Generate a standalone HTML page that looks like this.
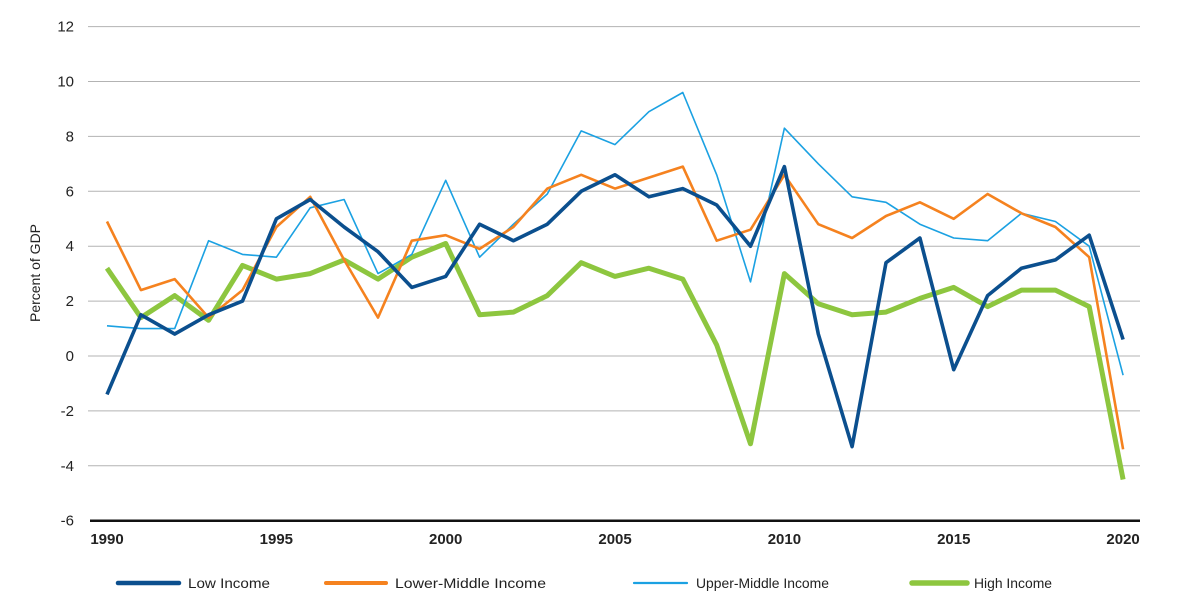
<!DOCTYPE html>
<html><head><meta charset="utf-8"><style>
html,body{margin:0;padding:0;background:#fff;width:1185px;height:611px;overflow:hidden}
svg{display:block;font-family:"Liberation Sans",sans-serif}
</style></head><body>
<svg id="c" width="1185" height="611" xmlns="http://www.w3.org/2000/svg"></svg>
<script>
const s=document.getElementById('c');let h='';
const X=y=>107+(y-1990)*33.87, Y=v=>356-v*27.45;
for(let v=-4;v<=12;v+=2){h+=`<line x1="88" x2="1140" y1="${Y(v)}" y2="${Y(v)}" stroke="#b3b3b3" stroke-width="1"/>`;}
h+=`<line x1="90" x2="1140" y1="${Y(-6)}" y2="${Y(-6)}" stroke="#111" stroke-width="2.5"/>`;
for(let v=-6;v<=12;v+=2)h+=`<text x="74" y="${Y(v)+5}" text-anchor="end" font-size="15" fill="#222">${v<0?'-'+(-v):v}</text>`;
for(let y=1990;y<=2020;y+=5)h+=`<text x="${X(y)}" y="544" text-anchor="middle" font-size="15" font-weight="bold" fill="#222">${y}</text>`;
h+=`<text transform="translate(40,273) rotate(-90)" text-anchor="middle" font-size="14" fill="#222">Percent of GDP</text>`;
const D=[
["#8dc63f",5,[3.2,1.4,2.2,1.3,3.3,2.8,3.0,3.5,2.8,3.6,4.1,1.5,1.6,2.2,3.4,2.9,3.2,2.8,0.4,-3.2,3.0,1.9,1.5,1.6,2.1,2.5,1.8,2.4,2.4,1.8,-4.5]],
["#1ba1e2",1.6,[1.1,1.0,1.0,4.2,3.7,3.6,5.4,5.7,3.0,3.7,6.4,3.6,4.8,5.9,8.2,7.7,8.9,9.6,6.6,2.7,8.3,7.0,5.8,5.6,4.8,4.3,4.2,5.2,4.9,4.0,-0.7]],
["#f5821f",2.6,[4.9,2.4,2.8,1.4,2.4,4.7,5.8,3.5,1.4,4.2,4.4,3.9,4.7,6.1,6.6,6.1,6.5,6.9,4.2,4.6,6.6,4.8,4.3,5.1,5.6,5.0,5.9,5.2,4.7,3.6,-3.4]],
["#0b4f8e",3.6,[-1.4,1.5,0.8,1.5,2.0,5.0,5.7,4.7,3.8,2.5,2.9,4.8,4.2,4.8,6.0,6.6,5.8,6.1,5.5,4.0,6.9,0.8,-3.3,3.4,4.3,-0.5,2.2,3.2,3.5,4.4,0.6]]];
for(const [c,w,d] of D){h+=`<polyline fill="none" stroke="${c}" stroke-width="${w}" stroke-linejoin="round" points="${d.map((v,i)=>X(1990+i).toFixed(1)+','+Y(v).toFixed(1)).join(' ')}"/>`;}
const L=[["#0b4f8e",118,179,188,82,"Low Income",4.5],["#f5821f",326,386,395,151,"Lower-Middle Income",4],["#1ba1e2",634,687,696,133,"Upper-Middle Income",2.2],["#8dc63f",912,967,974,78,"High Income",5.5]];
for(const [c,x1,x2,tx,tw,t,w] of L){h+=`<line x1="${x1}" x2="${x2}" y1="583" y2="583" stroke="${c}" stroke-width="${w}" stroke-linecap="round"/><text x="${tx}" y="588" font-size="14" fill="#222" textLength="${tw}" lengthAdjust="spacingAndGlyphs">${t}</text>`;}
s.innerHTML=h;
</script>
</body></html>
